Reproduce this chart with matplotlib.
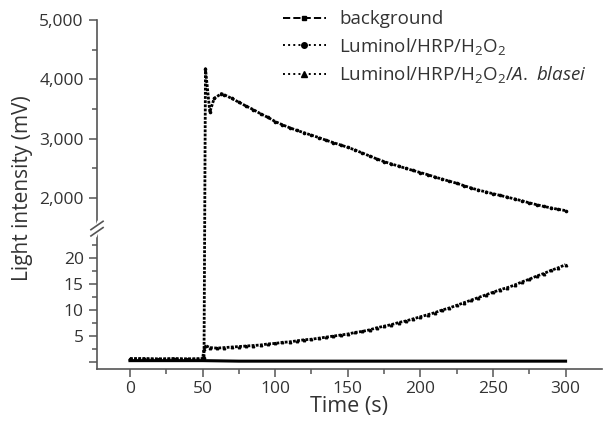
import numpy as np
import matplotlib
matplotlib.use("Agg")
import matplotlib.pyplot as plt
from matplotlib.ticker import FixedLocator, FixedFormatter

plt.rcParams['font.family'] = ['Open Sans', 'DejaVu Sans']
plt.rcParams['mathtext.fontset'] = 'custom'
plt.rcParams['mathtext.rm'] = 'Open Sans'
plt.rcParams['mathtext.it'] = 'Open Sans:italic'

# ---------------- data ----------------
bg_t = [0, 25, 50, 75, 100, 125, 150, 175, 200, 225, 250, 275, 300]
bg_v = [0.3, 0.3, 0.3, 0.2, 0.2, 0.2, 0.2, 0.2, 0.2, 0.2, 0.2, 0.2, 0.2]

lum_t = [0, 10, 20, 30, 40, 50, 51, 52, 55, 58, 63,
         65, 70, 75, 80, 85, 90, 95, 100, 105, 110, 115, 120, 125, 130, 135,
         140, 145, 150, 155, 160, 165, 170, 175, 180, 185, 190, 195, 200,
         205, 210, 215, 220, 225, 230, 235, 240, 245, 250, 255, 260, 265,
         270, 275, 280, 285, 290, 295, 300]
lum_v = [0.7, 0.7, 0.6, 0.7, 0.6, 0.7, 0.8, 4180, 3450, 3680, 3760,
         3740, 3680, 3615, 3550, 3490, 3420, 3360, 3290, 3235, 3185, 3140,
         3100, 3060, 3020, 2975, 2935, 2895, 2855, 2810, 2760, 2710, 2660,
         2615, 2575, 2540, 2500, 2465, 2430, 2395, 2355, 2320, 2285, 2250,
         2210, 2170, 2135, 2105, 2075, 2045, 2015, 1985, 1955, 1920, 1890,
         1860, 1835, 1810, 1790]

abl_t = [0, 10, 20, 30, 40, 50, 51, 52, 55, 60, 65, 70, 75, 80, 85, 90,
         95, 100, 105, 110, 115, 120, 125, 130, 135, 140, 145, 150, 155,
         160, 165, 170, 175, 180, 185, 190, 195, 200, 205, 210, 215, 220,
         225, 230, 235, 240, 245, 250, 255, 260, 265, 270, 275, 280, 285,
         290, 295, 300]
abl_v = [0.6, 0.6, 0.6, 0.6, 0.6, 0.6, 2.6, 3.2, 2.8, 2.7, 2.8, 2.9, 3.0,
         3.1, 3.2, 3.3, 3.5, 3.6, 3.8, 3.9, 4.1, 4.3, 4.4, 4.6, 4.8, 5.0,
         5.2, 5.4, 5.7, 5.9, 6.2, 6.6, 6.9, 7.2, 7.6, 7.9, 8.3, 8.7, 9.1,
         9.5, 10.0, 10.4, 10.9, 11.4, 11.9, 12.4, 12.9, 13.4, 13.9, 14.3,
         14.8, 15.4, 15.9, 16.5, 17.0, 17.6, 18.1, 18.7]

labels = ["background", "Luminol/HRP/H$_2$O$_2$",
          "Luminol/HRP/H$_2$O$_2$/$\\it{A.\\ blasei}$"]

y_major = [0, 5, 10, 15, 20, 2000, 3000, 4000, 5000]
y_major_labels = ["", "5", "10", "15", "20", "2,000", "3,000", "4,000", "5,000"]
y_minor = [2.5, 7.5, 12.5, 17.5, 22.5, 2500, 3500, 4500]

# ---------------- broken-axis scale ----------------
LOW_TOP = 25.0
UP_BOT = 1600.0
GAP = 1.9
K = 0.01138


def fwd(y):
    y = np.asarray(y, dtype=float)
    mid = LOW_TOP + (y - LOW_TOP) / (UP_BOT - LOW_TOP) * GAP
    up = LOW_TOP + GAP + (y - UP_BOT) * K
    return np.where(y <= LOW_TOP, y, np.where(y >= UP_BOT, up, mid))


def inv(f):
    f = np.asarray(f, dtype=float)
    mid = LOW_TOP + (f - LOW_TOP) / GAP * (UP_BOT - LOW_TOP)
    up = UP_BOT + (f - LOW_TOP - GAP) / K
    return np.where(f <= LOW_TOP, f, np.where(f >= LOW_TOP + GAP, up, mid))


fig = plt.figure(figsize=(6.04, 4.28), dpi=100)
ax = fig.add_axes([0.1606, 0.1379, 0.996 - 0.1606, 0.9533 - 0.1379])
ax.set_yscale('function', functions=(fwd, inv))

gray = '#555555'
txt = '#333333'

l1, = ax.plot(bg_t, bg_v, color='black', lw=2.2, ls='-', zorder=3)
l2, = ax.plot(lum_t, lum_v, color='black', lw=2.0, ls=(0, (1, 0.5)),
              marker='o', ms=1.6, zorder=4)
l3, = ax.plot(abl_t, abl_v, color='black', lw=2.0, ls=(0, (1, 0.5)),
              marker='^', ms=1.8, zorder=4)

ax.set_xlim(-22.7, 324.8)
ax.set_ylim(-1.3, 5000)

ax.set_xticks([0, 50, 100, 150, 200, 250, 300])
ax.set_xticks(np.arange(25, 325, 50), minor=True)
ax.yaxis.set_major_locator(FixedLocator(y_major))
ax.yaxis.set_major_formatter(FixedFormatter(y_major_labels))
ax.yaxis.set_minor_locator(FixedLocator(y_minor))

for s in ['top', 'right']:
    ax.spines[s].set_visible(False)
for s in ['left', 'bottom']:
    ax.spines[s].set_color(gray)
    ax.spines[s].set_linewidth(1.2)

ax.tick_params(axis='both', which='major', direction='out', length=6,
               width=1.1, color=gray, labelcolor=txt, labelsize=12.5)
ax.tick_params(axis='both', which='minor', direction='out', length=3.5,
               width=1.1, color=gray)
ax.tick_params(axis='x', pad=3)

ax.set_xlabel("Time (s)", fontsize=15.5, color=txt, labelpad=-1)
ax.set_ylabel("Light intensity (mV)", fontsize=15, color=txt)
ax.yaxis.set_label_coords(-0.126, 0.518)

# break marks on the y axis
trans = ax.transAxes
f_lo = (fwd(LOW_TOP) - fwd(-1.3)) / (fwd(5000) - fwd(-1.3))
ax.plot([-0.004, 0.004], [f_lo - 0.006, f_lo + 0.022], transform=trans,
        color='white', lw=4, clip_on=False, zorder=5)
for yy in (f_lo + 0.0, f_lo + 0.018):
    ax.plot([-0.012, 0.012], [yy - 0.012, yy + 0.012], transform=trans,
            color=gray, lw=1.2, clip_on=False, zorder=6)

leg = fig.legend([l1, l2, l3], labels, loc='upper left',
                 bbox_to_anchor=(0.44, 1.015), frameon=False, fontsize=13.5,
                 handlelength=2.3, handletextpad=0.7, labelspacing=0.4,
                 labelcolor=txt)
for h, ls in zip(leg.legend_handles, ['--', ':', ':']):
    h.set_linestyle(ls)
    h.set_linewidth(1.4)
    h.set_markersize(4)
leg.legend_handles[0].set_marker('s')
leg.legend_handles[0].set_markersize(3)

fig.savefig("out.png", dpi=100)
